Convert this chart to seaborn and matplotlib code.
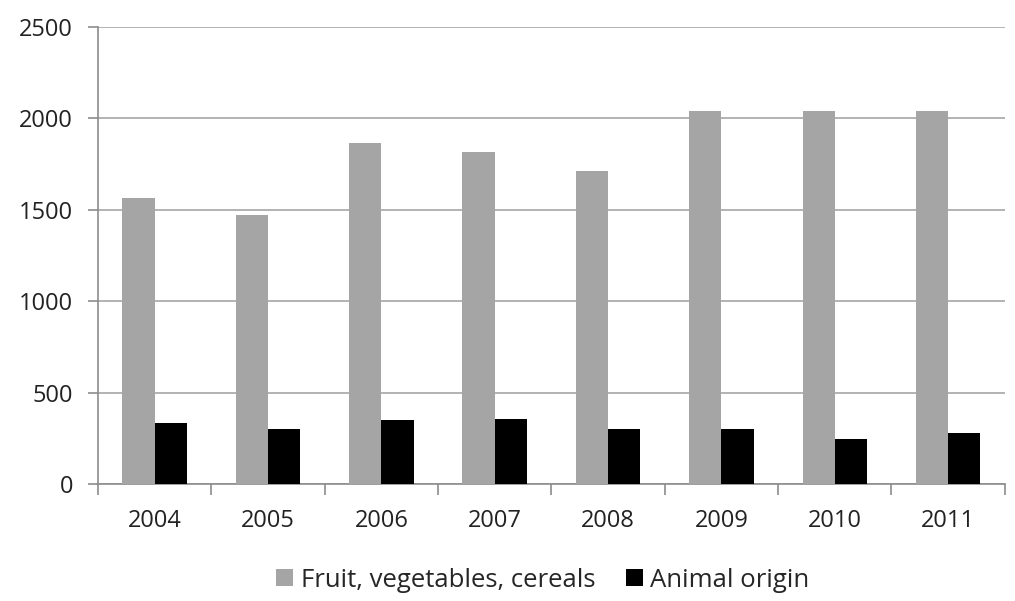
import numpy as np
import pandas as pd
import matplotlib
matplotlib.use("Agg")
import matplotlib.pyplot as plt
import seaborn as sns

# data
years = ["2004", "2005", "2006", "2007", "2008", "2009", "2010", "2011"]
fruit_veg = [1565, 1472, 1863, 1816, 1714, 2042, 2042, 2042]
animal = [333, 301, 348, 355, 301, 301, 246, 279]
series_names = ["Fruit, vegetables, cereals", "Animal origin"]

df = pd.DataFrame({
    "year": years * 2,
    "value": fruit_veg + animal,
    "series": [series_names[0]] * len(years) + [series_names[1]] * len(years),
})

sns.set_theme(style="white")
plt.rcParams["font.family"] = ["Open Sans", "DejaVu Sans"]

fig = plt.figure(figsize=(10.15, 6.01), dpi=100)
ax = fig.add_axes([0.0966, 0.1947, 0.8934, 0.7603])

sns.barplot(
    data=df, x="year", y="value", hue="series",
    palette=["#A5A5A5", "#000000"], width=0.57,
    saturation=1, errorbar=None, ax=ax, zorder=3,
    edgecolor="none", linewidth=0,
)

ax.set_xlim(-0.5, len(years) - 0.5)
ax.set_ylim(0, 2500)
ax.set_yticks(range(0, 2501, 500))
ax.yaxis.grid(True, color="#A6A6A6", linewidth=1.2, zorder=0)
ax.set_axisbelow(True)

for s in ["top", "right"]:
    ax.spines[s].set_visible(False)
for s in ["left", "bottom"]:
    ax.spines[s].set_color("#8C8C8C")
    ax.spines[s].set_linewidth(1.2)

# x ticks sit at category boundaries
ax.set_xticks(np.arange(-0.5, len(years), 1.0), minor=True)
ax.tick_params(axis="x", which="minor", length=8, color="#8C8C8C", width=1.2, bottom=True)
ax.tick_params(axis="x", which="major", length=0, pad=18, labelsize=17, colors="#222222")
ax.tick_params(axis="y", length=7, color="#8C8C8C", width=1.2, left=True, pad=11,
               labelsize=17, colors="#222222")

ax.set_xlabel("")
ax.set_ylabel("")

handles, labels = ax.get_legend_handles_labels()
ax.legend_.remove()
fig.legend(handles, labels, loc="lower center", bbox_to_anchor=(0.535, -0.025),
           ncol=2, frameon=False, fontsize=18.5, handlelength=0.65, handleheight=0.65,
           handletextpad=0.3, columnspacing=1.2)

fig.savefig("out.png", dpi=100)
